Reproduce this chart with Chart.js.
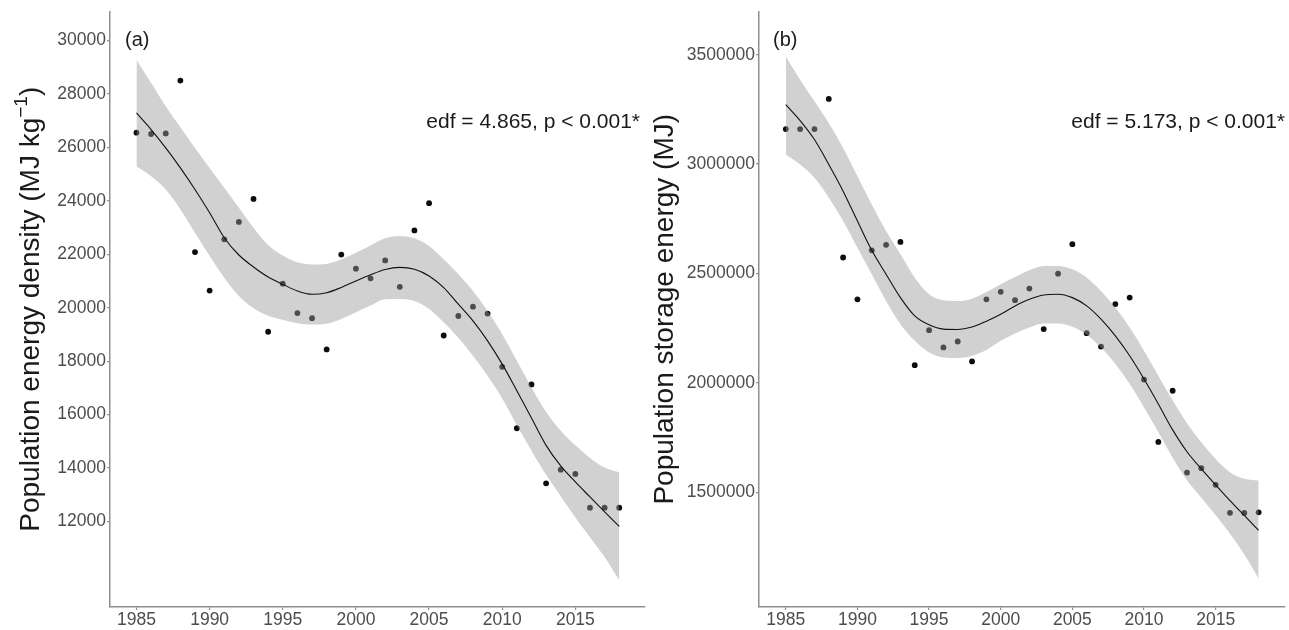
<!DOCTYPE html>
<html><head><meta charset="utf-8">
<script src="https://cdn.jsdelivr.net/npm/chart.js@4.4.1/dist/chart.umd.min.js"></script>
<style>
html,body{margin:0;padding:0;background:#fff;}
#wrap{position:relative;width:1289px;height:630px;overflow:hidden;background:#fff;}
canvas{position:absolute;top:0;}
</style></head><body>
<div id="wrap">
<canvas id="ca" width="650" height="630" style="left:0;width:650px;height:630px"></canvas>
<canvas id="cb" width="644" height="630" style="left:645px;width:644px;height:630px"></canvas>
</div>
<script>
// ---------- data ----------
const years = [1985,1986,1987,1988,1989,1990,1991,1992,1993,1994,1995,1996,1997,1998,1999,2000,2001,2002,2003,2004,2005,2006,2007,2008,2009,2010,2011,2012,2013,2014,2015,2016,2017,2018];
const xTicks = [1985,1990,1995,2000,2005,2010,2015];

// Panel (a): population energy density (MJ kg-1)
const densityObs = [26550,26500,26520,28500,22080,20640,22560,23210,24070,19100,20900,19800,19610,18440,21990,21460,21100,21770,20780,22890,23910,18960,19690,20040,19780,17790,15490,17130,13430,13940,13780,12520,12520,12520];
const densityFit = [27286,26665,25979,25232,24425,23553,22619,21972,21524,21150,20877,20627,20503,20560,20760,21000,21230,21430,21510,21440,21188,20751,20131,19507,18761,17890,16894,15870,14850,14080,13480,12920,12360,11815];
const densityUpper = [29279,28406,27536,26751,25979,25232,24485,23738,22992,22350,21950,21700,21620,21640,21810,22060,22330,22595,22681,22595,22308,21810,21251,20628,19881,19011,18014,17018,16100,15400,14850,14380,14020,13843];
const densityLower = [25295,24922,24425,23678,22805,21934,21124,20441,19980,19700,19550,19420,19370,19400,19580,19830,20080,20318,20330,20250,19950,19450,18880,18200,17450,16600,15600,14650,13750,12950,12150,11416,10669,9799];
const densityTicks = [12000,14000,16000,18000,20000,22000,24000,26000,28000,30000];

// Panel (b): population storage energy (MJ)
const storageObs = [3160000,3160000,3160000,3298000,2573000,2382000,2606000,2631000,2644000,2081000,2241000,2162000,2189000,2098000,2382000,2416000,2378000,2431000,2246000,2499000,2634000,2227000,2166000,2360000,2390000,2015000,1730000,1964000,1590000,1610000,1534000,1406000,1405000,1408000];
const storageFit = [3271900,3198900,3112200,2998200,2876400,2739600,2605800,2496400,2389600,2306100,2265100,2245500,2243800,2255000,2282000,2313900,2351700,2382300,2401900,2405100,2389600,2351700,2291100,2214900,2123600,2017300,1903300,1785000,1685000,1606800,1533800,1462200,1393800,1325300];
const storageUpper = [3492200,3385900,3287000,3187900,3073900,2944800,2815700,2693900,2587600,2480900,2405100,2377700,2374600,2385000,2415000,2450700,2484100,2514600,2534200,2534200,2519200,2480900,2420100,2344000,2252800,2146400,2032400,1920000,1815000,1728100,1652400,1591300,1561200,1553400];
const storageLower = [3043800,2998200,2937000,2845800,2739500,2617700,2496400,2374600,2268300,2192100,2138700,2115900,2113200,2123600,2150000,2192100,2225400,2252800,2271000,2271000,2255900,2219500,2161500,2085800,1994600,1887800,1773700,1658000,1555000,1475000,1395000,1310000,1215000,1104900];
const storageTicks = [1500000,2000000,2500000,3000000,3500000];

// ---------- drawing ----------
const FONT = "'Liberation Sans', Arial, Helvetica, sans-serif";
const AXIS_COL = '#8f8f8f';
const TICK_TXT = '#4d4d4d';

const pts = arr => years.map((yr,i)=>({x:yr,y:arr[i]}));

const textPlugin = {
  id:'txt',
  afterDraw(chart){
    const o = chart.options.plugins.txt;
    const ctx = chart.ctx;
    const ca = chart.chartArea;
    ctx.save();
    ctx.fillStyle = '#1a1a1a';
    ctx.textBaseline = 'alphabetic';
    ctx.font = '20px ' + FONT;
    ctx.textAlign = 'left';
    ctx.fillText(o.letter, o.letterX, 46);
    ctx.font = '21px ' + FONT;
    ctx.textAlign = 'right';
    ctx.fillText(o.stat, o.statX, 128);
    const cy = (ca.top + ca.bottom) / 2;
    ctx.translate(o.titleX, cy);
    ctx.rotate(-Math.PI/2);
    ctx.textAlign = 'left';
    const big = '28px ' + FONT, small = '19px ' + FONT;
    const parts = o.title;
    let total = 0;
    const widths = parts.map(p=>{ ctx.font = p[1]?small:big; const w = ctx.measureText(p[0]).width; total += w; return w; });
    let x = -total/2;
    parts.forEach((p,i)=>{
      ctx.font = p[1]?small:big;
      ctx.fillText(p[0], x, p[1] ? -12 : 0);
      x += widths[i];
    });
    ctx.restore();
  }
};

function makeChart(id, cfg){
  const ds = [
    {data: pts(cfg.fit), borderColor:'#111', borderWidth:1.1, pointRadius:0, fill:false, order:0, cubicInterpolationMode:'monotone'},
    {data: pts(cfg.upper), borderWidth:0, borderColor:'rgba(0,0,0,0)', pointRadius:0, fill:'+1', backgroundColor:'rgba(153,153,153,0.45)', order:1, cubicInterpolationMode:'monotone'},
    {data: pts(cfg.lower), borderWidth:0, borderColor:'rgba(0,0,0,0)', pointRadius:0, fill:false, order:2, cubicInterpolationMode:'monotone'},
    {data: pts(cfg.obs), showLine:false, pointRadius:2.9, pointBackgroundColor:'#0d0d0d', pointBorderWidth:0, order:3}
  ];
  return new Chart(document.getElementById(id), {
    type:'line',
    data:{datasets:ds},
    plugins:[textPlugin],
    options:{
      responsive:false, animation:false, events:[],
      layout:{padding:{left:0, right:cfg.padRight, top:10, bottom:0}},
      plugins:{legend:{display:false}, tooltip:{enabled:false}, txt:cfg.txt},
      scales:{
        x:{type:'linear', min:cfg.xmin, max:cfg.xmax,
           afterBuildTicks:s=>{ s.ticks = xTicks.map(v=>({value:v})); },
           afterFit:s=>{ s.height = 23; },
           ticks:{font:{family:FONT,size:17.5}, color:TICK_TXT, padding:0, maxRotation:0, autoSkip:false, callback:v=>String(v)},
           grid:{drawOnChartArea:false, drawTicks:true, tickLength:3, color:AXIS_COL, lineWidth:1.2},
           border:{display:true, color:AXIS_COL, width:1.5}},
        y:{type:'linear', min:cfg.ymin, max:cfg.ymax,
           afterBuildTicks:s=>{ s.ticks = cfg.yTicks.map(v=>({value:v})); },
           afterFit:s=>{ s.width = cfg.yWidth; },
           ticks:{font:{family:FONT,size:17.5}, color:TICK_TXT, padding:1, autoSkip:false, callback:v=>String(v)},
           grid:{drawOnChartArea:false, drawTicks:true, tickLength:3, color:AXIS_COL, lineWidth:1.2},
           border:{display:true, color:AXIS_COL, width:1.5}}
      }
    }
  });
}

makeChart('ca', {
  fit:densityFit, upper:densityUpper, lower:densityLower, obs:densityObs, yTicks:densityTicks,
  xmin:1983.19, xmax:2019.76, ymin:8802, ymax:31083, yWidth:110, padRight:5,
  txt:{letter:'(a)', letterX:125, stat:'edf = 4.865, p < 0.001*', statX:640, titleX:39,
       title:[['Population energy density (MJ kg',false],['\u22121',true],[')',false]]}
});
makeChart('cb', {
  fit:storageFit, upper:storageUpper, lower:storageLower, obs:storageObs, yTicks:storageTicks,
  xmin:1983.13, xmax:2019.84, ymin:975400, ymax:3697500, yWidth:114, padRight:0,
  txt:{letter:'(b)', letterX:128, stat:'edf = 5.173, p < 0.001*', statX:640, titleX:28,
       title:[['Population storage energy (MJ)',false]]}
});
</script>
</body></html>
